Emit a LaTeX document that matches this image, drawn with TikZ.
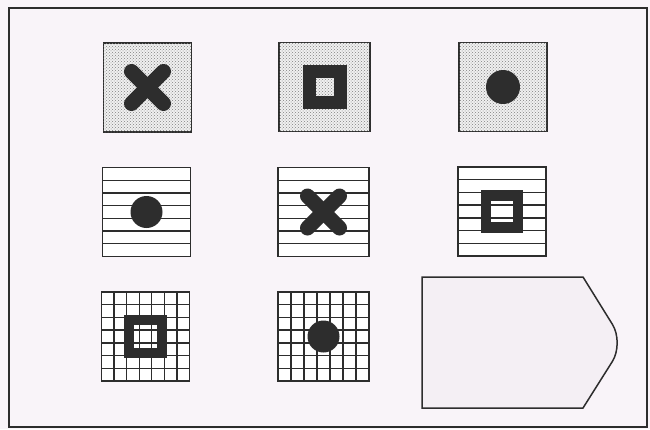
\documentclass[tikz,border=0pt]{standalone}
\usetikzlibrary{patterns,calc}
\definecolor{bgc}{RGB}{249,244,249}
\definecolor{penfill}{RGB}{244,239,244}
\definecolor{ink}{RGB}{45,45,45}
\tikzset{
  cell/.style={draw=ink, line width=1.5pt, minimum width=88pt, minimum height=89pt, inner sep=0pt, outer sep=0pt},
  dottedcell/.style={cell, fill=gray!12, postaction={pattern=crosshatch dots, pattern color=gray}},
  stripedcell/.style={cell, fill=white, path picture={
      \foreach \i in {1,...,6}
        \draw[ink, line width=1.3pt]
          ($(path picture bounding box.north west)!\i/7!(path picture bounding box.south west)$) --
          ($(path picture bounding box.north east)!\i/7!(path picture bounding box.south east)$);}},
  gridcell/.style={cell, fill=white, path picture={
      \foreach \i in {1,...,6}{
        \draw[ink, line width=1.3pt]
          ($(path picture bounding box.north west)!\i/7!(path picture bounding box.south west)$) --
          ($(path picture bounding box.north east)!\i/7!(path picture bounding box.south east)$);
        \draw[ink, line width=1.3pt]
          ($(path picture bounding box.north west)!\i/7!(path picture bounding box.north east)$) --
          ($(path picture bounding box.south west)!\i/7!(path picture bounding box.south east)$);}}},
  xmark/.style={draw=ink, line width=15pt, line cap=round},
  ring/.style={draw=ink},
  blob/.style={fill=ink},
}
\begin{document}
\begin{tikzpicture}[x=1pt,y=-1pt]
\useasboundingbox (0,0) rectangle (650,429);
\fill[bgc] (0,0) rectangle (650,429);
\draw[ink, line width=1.5pt] (9,8) rectangle (647,427);

% row 1
\node[dottedcell] (b1) at (147.5,87.5) {};
\node[dottedcell, minimum width=91pt] (b2) at (324.5,87) {};
\node[dottedcell] (b3) at (503,87) {};
% row 2
\node[stripedcell] (b4) at (146.5,212) {};
\node[stripedcell, minimum width=91pt] (b5) at (323.5,212) {};
\node[stripedcell] (b6) at (502,211.5) {};
% row 3
\node[gridcell] (b7) at (145.5,336.5) {};
\node[gridcell, minimum width=91pt] (b8) at (323.5,336.5) {};

% symbols
\draw[xmark] ($(b1)+(-16,-16)$) -- ($(b1)+(16,16)$);
\draw[xmark] ($(b1)+(-16,16)$) -- ($(b1)+(16,-16)$);
\draw[ring, line width=13pt] ($(b2)+(-15.5,-15.5)$) rectangle ($(b2)+(15.5,15.5)$);
\fill[blob] (b3) circle (17);

\fill[blob] (b4) circle (16);
\draw[xmark] ($(b5)+(-16,-16)$) -- ($(b5)+(16,16)$);
\draw[xmark] ($(b5)+(-16,16)$) -- ($(b5)+(16,-16)$);
\draw[ring, line width=10.5pt] ($(b6)+(-16,-16)$) rectangle ($(b6)+(16,16)$);

\draw[ring, line width=10pt] ($(b7)+(-16.5,-16.5)$) rectangle ($(b7)+(16.5,16.5)$);
\fill[blob] (b8) circle (16);

% answer shape
\draw[ink, line width=1.5pt, fill=penfill] (422,277) coordinate (p1) -- (583,277) coordinate (p2)
   [rounded corners=22pt] -- (624,343) coordinate (p3) [sharp corners] -- (583,408) coordinate (p4)
   -- (422,408) coordinate (p5) -- cycle;
\end{tikzpicture}
\end{document}
